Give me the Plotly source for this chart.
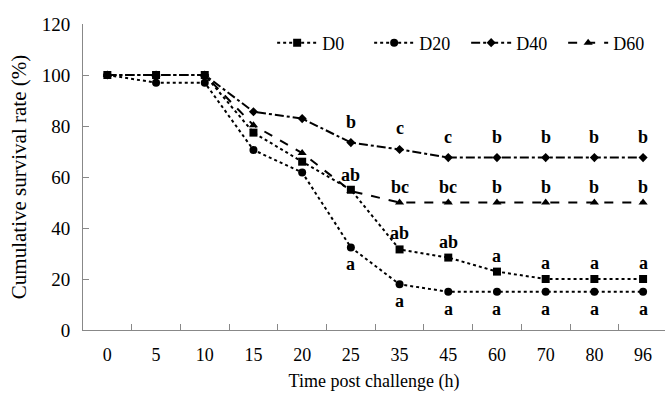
import plotly.graph_objects as go

categories = ["0", "5", "10", "15", "20", "25", "35", "45", "60", "70", "80", "96"]
d0 = [100, 100, 100, 77.4, 66, 55, 31.6, 28.4, 22.9, 20, 20, 20]
d20 = [100, 97, 97, 70.6, 61.8, 32.4, 17.9, 15, 15, 15, 15, 15]
d40 = [100, 100, 100, 85.6, 82.9, 73.5, 70.8, 67.6, 67.6, 67.6, 67.6, 67.6]
d60 = [100, 100, 100, 80.3, 69.4, 54.5, 50, 50, 50, 50, 50, 50]

lab_d0 = ["", "", "", "", "", "", "ab", "ab", "a", "a", "a", "a"]
lab_d20 = ["", "", "", "", "", "a", "a", "a", "a", "a", "a", "a"]
lab_d40 = ["", "", "", "", "", "b", "c", "c", "b", "b", "b", "b"]
lab_d60 = ["", "", "", "", "", "ab", "bc", "bc", "b", "b", "b", "b"]

FONT = "Liberation Serif"

series = [
    ("D0", d0, "dot", "square", 8),
    ("D20", d20, "dot", "circle", 8),
    ("D40", d40, "dashdot", "diamond", 7),
    ("D60", d60, "dash", "triangle-up", 8),
]

fig = go.Figure()
for name, vals, dash, sym, ms in series:
    fig.add_trace(go.Scatter(
        x=categories, y=vals, name=name, mode="lines+markers",
        line=dict(color="black", width=2, dash=dash),
        marker=dict(symbol=sym, size=ms, color="black"),
    ))

for labels, vals, shift in [(lab_d0, d0, 16), (lab_d20, d20, -17), (lab_d40, d40, 21), (lab_d60, d60, 16)]:
    for i, (v, t) in enumerate(zip(vals, labels)):
        if t:
            fig.add_annotation(x=i, y=v, text="<b>%s</b>" % t, showarrow=False,
                               xref="x", yref="y", yshift=shift,
                               font=dict(family=FONT, size=18, color="black"))

fig.update_layout(
    width=665, height=393,
    margin=dict(l=83, r=0, t=24, b=63),
    paper_bgcolor="white", plot_bgcolor="white",
    font=dict(family=FONT, size=18, color="black"),
    showlegend=True,
    legend=dict(orientation="h", x=0.325, y=0.938, xanchor="left", yanchor="middle",
                font=dict(family=FONT, size=18), bgcolor="rgba(0,0,0,0)",
                itemwidth=40, entrywidth=42, tracegroupgap=0),
)
fig.update_xaxes(
    type="category", range=[-0.5, 11.45],
    showline=True, linecolor="#888", linewidth=1,
    ticks="inside", tickson="boundaries", ticklen=6, tickcolor="#888",
    showgrid=False, zeroline=False,
    ticklabelstandoff=8,
    title=dict(text="Time post challenge (h)", font=dict(family=FONT, size=18), standoff=10),
    tickfont=dict(family=FONT, size=18),
)
fig.update_yaxes(
    range=[0, 120], dtick=20,
    showline=True, linecolor="#888", linewidth=1,
    ticks="inside", ticklen=6, tickcolor="#888",
    showgrid=False, zeroline=False,
    ticklabelstandoff=8,
    title=dict(text="Cumulative survival rate (%)", font=dict(family=FONT, size=21), standoff=9),
    tickfont=dict(family=FONT, size=19),
)

fig.write_html("out.html")
